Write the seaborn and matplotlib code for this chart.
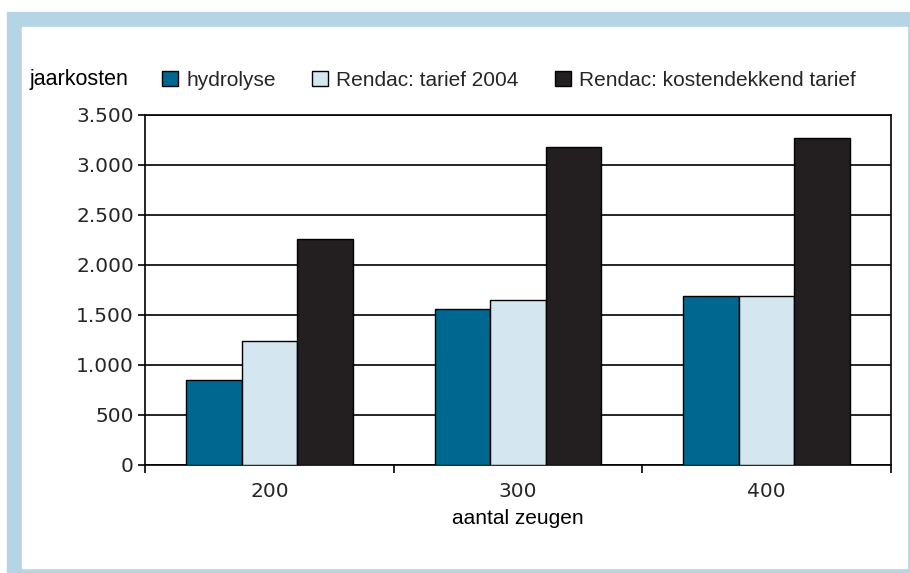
import matplotlib.pyplot as plt
import matplotlib.patches as mpatches
import matplotlib.ticker as mticker
import pandas as pd
import seaborn as sns

zeugen = ["200", "300", "400"]
reeksen = ["hydrolyse", "Rendac: tarief 2004", "Rendac: kostendekkend tarief"]
hydrolyse = [850, 1565, 1690]
tarief_2004 = [1245, 1655, 1690]
kostendekkend = [2260, 3185, 3270]
yticks = [0, 500, 1000, 1500, 2000, 2500, 3000, 3500]
ytick_labels = ["0", "500", "1.000", "1.500", "2.000", "2.500", "3.000", "3.500"]
kleuren = ["#006890", "#d4e6f0", "#231f20"]

df = pd.DataFrame({
    "zeugen": zeugen * 3,
    "reeks": [reeksen[0]] * 3 + [reeksen[1]] * 3 + [reeksen[2]] * 3,
    "kosten": hydrolyse + tarief_2004 + kostendekkend,
})

sns.set_theme(style="white")
plt.rcParams["font.family"] = ["Liberation Sans", "DejaVu Sans"]

fig = plt.figure(figsize=(9.1, 5.73), dpi=100)

# lichtblauwe rand
W, H = 910, 573
fig.patches.append(mpatches.Rectangle((7 / W, 0), 1 - 7 / W, 1 - 12 / H,
                                      transform=fig.transFigure, color="#b5d5e5", zorder=-20))
fig.patches.append(mpatches.Rectangle((22 / W, 5 / H), (907 - 22) / W, (568 - 27) / H,
                                      transform=fig.transFigure, color="white", zorder=-10))

ax = fig.add_axes([145 / W, 1 - 465 / H, (891 - 145) / W, (465 - 115) / H])
ax.set_facecolor("none")
sns.barplot(data=df, x="zeugen", y="kosten", hue="reeks", hue_order=reeksen,
            palette=kleuren, width=0.67, gap=0, edgecolor="black", linewidth=1,
            saturation=1, ax=ax, zorder=3)

ax.set_ylim(0, 3500)
ax.set_xlim(-0.5, 2.5)
ax.set_yticks(yticks)
ax.set_yticklabels(ytick_labels, family="DejaVu Sans", fontsize=14.5)
ax.yaxis.grid(True, color="black", linewidth=1.2, zorder=0)
ax.set_axisbelow(True)
ax.tick_params(axis="y", which="major", direction="out", length=5, width=1.2,
               color="black", left=True, pad=3)
ax.tick_params(axis="x", which="major", length=0, pad=12, labelsize=14.5)
for t in ax.get_xticklabels():
    t.set_family("DejaVu Sans")
ax.xaxis.set_minor_locator(mticker.FixedLocator([-0.5, 0.5, 1.5, 2.5]))
ax.tick_params(axis="x", which="minor", direction="out", length=6, width=1.2,
               color="black", bottom=True)
for s in ax.spines.values():
    s.set_color("black")
    s.set_linewidth(1.2)

ax.set_xlabel("aantal zeugen", fontsize=15, color="black", labelpad=6)
ax.set_ylabel("")
ax.text(30 / W, 1 - 80 / H, "jaarkosten", transform=fig.transFigure,
        fontsize=15.5, va="center", ha="left", color="black")

ax.legend(loc="center left", bbox_to_anchor=(154 / W, 1 - 80 / H),
          bbox_transform=fig.transFigure, ncol=3, frameon=False,
          fontsize=15, handlelength=0.75, handleheight=0.75, handletextpad=0.4,
          columnspacing=1.75, borderaxespad=0)

fig.savefig("out.png", dpi=100)
